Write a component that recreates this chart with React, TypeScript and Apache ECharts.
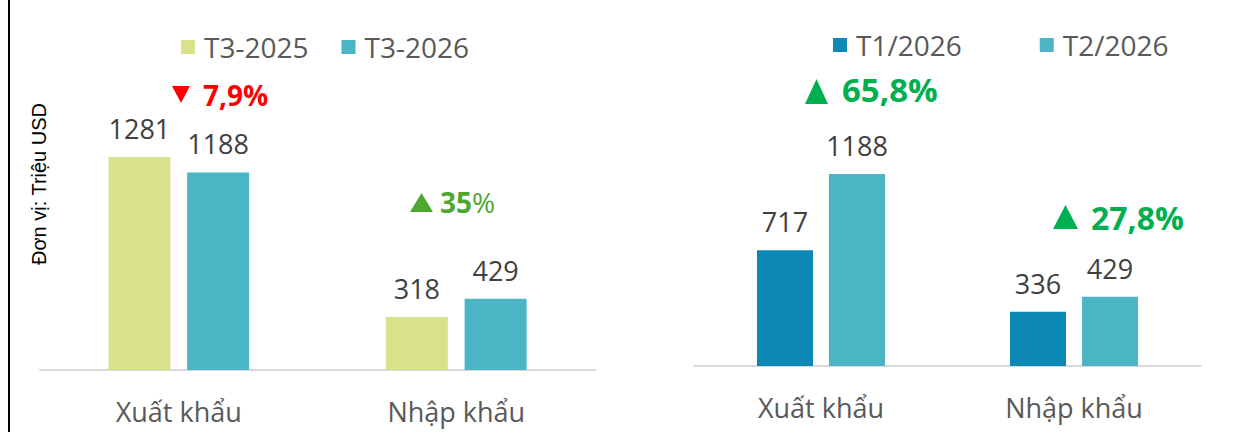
import React, { useEffect, useRef } from "react";
import * as echarts from "echarts";

const categories = ["Xuất khẩu", "Nhập khẩu"];
const leftSeriesNames = ["T3-2025", "T3-2026"];
const leftValues1 = [1281, 318];
const leftValues2 = [1188, 429];
const rightSeriesNames = ["T1/2026", "T2/2026"];
const rightValues1 = [717, 336];
const rightValues2 = [1188, 429];
const unitLabel = "Đơn vị: Triệu USD";
const changeLeftExport = "7,9%";
const changeLeftImport = "35";
const changeRightExport = "65,8%";
const changeRightImport = "27,8%";

const FONT = "'Open Sans', 'Noto Sans', sans-serif";
const C_LIME = "#d9e28b";
const C_TEAL = "#4bb5c6";
const C_BLUE = "#0b88b3";
const C_VAL = "#404040";
const C_AXIS = "#595959";

export default function App() {
  const ref = useRef<HTMLDivElement>(null);
  useEffect(() => {
    if (!ref.current) return;
    const chart = echarts.init(ref.current, undefined, { renderer: "svg" });
    const valueLabel = {
      show: true,
      position: "top",
      distance: 15,
      fontFamily: FONT,
      fontSize: 27,
      color: C_VAL,
    };
    const xAxisCommon = {
      type: "category",
      data: categories,
      axisLine: { show: true, lineStyle: { color: "#d9d9d9", width: 2 } },
      axisTick: { show: false },
      axisLabel: { fontFamily: FONT, fontSize: 27, color: C_AXIS, margin: 28 },
    };
    const yAxisCommon = {
      type: "value",
      min: 0,
      max: 1500,
      show: false,
      splitLine: { show: false },
    };
    const legendText = { fontFamily: FONT, fontSize: 28, color: C_AXIS, padding: [0, 0, 0, 4] };
    const option = {
      animation: false,
      backgroundColor: "#ffffff",
      grid: [
        { left: 40, top: 120.5, width: 555, height: 249.5 },
        { left: 694.5, top: 123.7, width: 506, height: 242.3 },
      ],
      xAxis: [
        { ...xAxisCommon, gridIndex: 0 },
        { ...xAxisCommon, gridIndex: 1 },
      ],
      yAxis: [
        { ...yAxisCommon, gridIndex: 0 },
        { ...yAxisCommon, gridIndex: 1 },
      ],
      legend: [
        {
          data: leftSeriesNames,
          left: 181,
          top: 33,
          padding: 0,
          itemWidth: 14,
          itemHeight: 14,
          itemGap: 33,
          icon: "rect",
          textStyle: legendText,
        },
        {
          data: rightSeriesNames,
          left: 833,
          top: 31,
          padding: 0,
          itemWidth: 14,
          itemHeight: 14,
          itemGap: 78,
          icon: "rect",
          textStyle: legendText,
        },
      ],
      series: [
        {
          name: leftSeriesNames[0],
          type: "bar",
          xAxisIndex: 0,
          yAxisIndex: 0,
          data: leftValues1,
          barWidth: 62,
          barGap: "27%",
          itemStyle: { color: C_LIME },
          label: valueLabel,
        },
        {
          name: leftSeriesNames[1],
          type: "bar",
          xAxisIndex: 0,
          yAxisIndex: 0,
          data: leftValues2,
          barWidth: 62,
          barGap: "27%",
          itemStyle: { color: C_TEAL },
          label: valueLabel,
        },
        {
          name: rightSeriesNames[0],
          type: "bar",
          xAxisIndex: 1,
          yAxisIndex: 1,
          data: rightValues1,
          barWidth: 56,
          barGap: "28.6%",
          itemStyle: { color: C_BLUE },
          label: valueLabel,
        },
        {
          name: rightSeriesNames[1],
          type: "bar",
          xAxisIndex: 1,
          yAxisIndex: 1,
          data: rightValues2,
          barWidth: 56,
          barGap: "28.6%",
          itemStyle: { color: C_TEAL },
          label: valueLabel,
        },
      ],
      graphic: [
        {
          type: "line",
          shape: { x1: 9, y1: 0, x2: 9, y2: 432 },
          style: { stroke: "#000000", lineWidth: 2 },
        },
        {
          type: "text",
          x: 39,
          y: 184,
          rotation: Math.PI / 2,
          style: {
            text: unitLabel,
            fontFamily: "'Liberation Sans', Arial, sans-serif",
            fontSize: 20,
            fill: "#000000",
            align: "center",
            verticalAlign: "middle",
          },
        },
        {
          type: "polygon",
          shape: { points: [[172, 86], [190, 86], [181, 103]] },
          style: { fill: "#ff0000" },
        },
        {
          type: "text",
          x: 203,
          y: 95,
          style: {
            text: changeLeftExport,
            fontFamily: FONT,
            fontWeight: "bold",
            fontSize: 28,
            fill: "#ff0000",
            align: "left",
            verticalAlign: "middle",
          },
        },
        {
          type: "polygon",
          shape: { points: [[410, 212], [433, 212], [421.5, 193]] },
          style: { fill: "#4ea72e" },
        },
        {
          type: "text",
          x: 440,
          y: 202,
          style: {
            text: "{b|" + changeLeftImport + "}{n|%}",
            align: "left",
            verticalAlign: "middle",
            rich: {
              b: { fontFamily: FONT, fontWeight: "bold", fontSize: 28, fill: "#4ea72e", color: "#4ea72e" },
              n: { fontFamily: FONT, fontWeight: "normal", fontSize: 28, fill: "#4ea72e", color: "#4ea72e" },
            },
          },
        },
        {
          type: "polygon",
          shape: { points: [[805, 104], [828, 104], [816.5, 79]] },
          style: { fill: "#00b050" },
        },
        {
          type: "text",
          x: 842,
          y: 89,
          style: {
            text: changeRightExport,
            fontFamily: FONT,
            fontWeight: "bold",
            fontSize: 33,
            fill: "#00b050",
            align: "left",
            verticalAlign: "middle",
          },
        },
        {
          type: "polygon",
          shape: { points: [[1053, 229], [1078, 229], [1065.5, 205]] },
          style: { fill: "#00b050" },
        },
        {
          type: "text",
          x: 1091,
          y: 217,
          style: {
            text: changeRightImport,
            fontFamily: FONT,
            fontWeight: "bold",
            fontSize: 32,
            fill: "#00b050",
            align: "left",
            verticalAlign: "middle",
          },
        },
      ],
    };
    chart.setOption(option as any);
    return () => chart.dispose();
  }, []);
  return (
    <div
      ref={ref}
      style={{ position: "absolute", left: 0, top: 0, width: 1259, height: 432, background: "#fff" }}
    />
  );
}
